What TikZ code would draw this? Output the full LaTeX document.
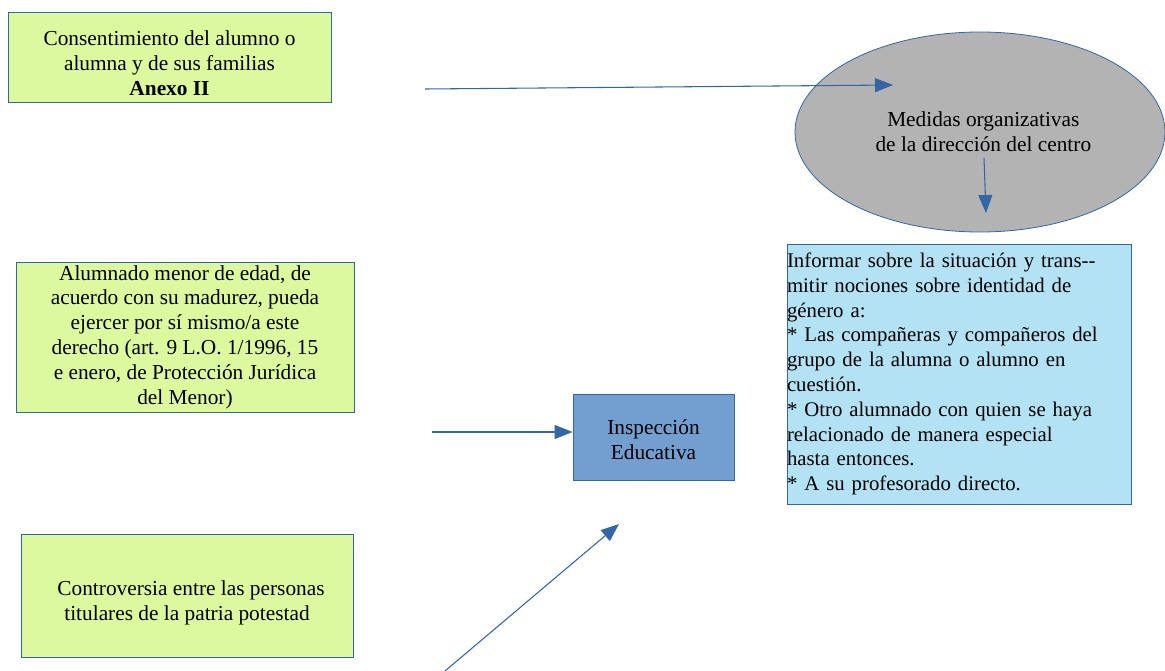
\documentclass[tikz,border=0pt]{standalone}
\usepackage{fontspec}
\setmainfont{Liberation Serif}
\usetikzlibrary{arrows.meta,shapes.geometric}
\definecolor{limefill}{HTML}{DDF99E}
\definecolor{skyfill}{HTML}{B4E2F5}
\definecolor{inspfill}{HTML}{729FCF}
\definecolor{ovalfill}{HTML}{B3B3B3}
\definecolor{linkblue}{HTML}{3465A4}
\tikzset{myarrow/.style={linkblue,line width=0.8pt,-{Triangle[length=13.5pt,width=10.5pt]}}}
\tikzset{mybox/.style={draw=linkblue,line width=0.6pt,fill=limefill,align=center,inner sep=0pt,font=\fontsize{16}{18.6}\selectfont}}

\begin{document}
\begin{tikzpicture}[x=0.75pt,y=-0.75pt]
	\useasboundingbox (0,0) rectangle (1165,671);

	% left column
	\node[mybox,minimum width=242.25pt,minimum height=67.5pt] (consent) at (169.5,57)
		{\parbox{240pt}{\centering\vspace*{9pt}Consentimiento del alumno o\\ alumna y de sus familias\\ \textbf{Anexo II}}};
	\node[mybox,minimum width=253.5pt,minimum height=112.5pt] (menor) at (185,337)
		{Alumnado menor de edad, de\\ acuerdo con su madurez, pueda\\ ejercer por sí mismo/a este\\ derecho (art. 9 L.O. 1/1996, 15\\ e enero, de Protección Jurídica\\ del Menor)};
	\node[mybox,minimum width=249pt,minimum height=92.25pt] (contro) at (187,595.5)
		{\parbox{245pt}{\centering\vspace*{10.5pt}\hspace*{6pt}Controversia entre las personas\\ titulares de la patria potestad}};

	% centre
	\node[mybox,fill=inspfill,minimum width=120.75pt,minimum height=64.5pt] (insp) at (653.5,437)
		{\parbox{118pt}{\centering\vspace*{4.5pt}Inspección\\ Educativa}};

	% right column
	\node[mybox,ellipse,fill=ovalfill,minimum width=277.5pt,minimum height=150pt] (medidas) at (980,132)
		{\hspace*{5pt}Medidas organizativas\\ \hspace*{5pt}de la dirección del centro};
	\node[mybox,fill=skyfill,align=left,text width=258pt,minimum height=195pt,inner xsep=0pt,font=\fontsize{15.6}{18.6}\selectfont] (informar) at (959,374)
		{Informar sobre la situación y trans-{}-\\ mitir nociones sobre identidad de\\ género a:\\ {*} Las compañeras y compañeros del\\ grupo de la alumna o alumno en\\ cuestión.\\ {*} Otro alumnado con quien se haya\\ relacionado de manera especial\\ hasta entonces.\\ {*} A su profesorado directo.};

	% arrows
	\coordinate (s1) at (425,89);
	\coordinate (e1) at (893,85);
	\coordinate (s2) at (984,158);
	\coordinate (e2) at (986,213);
	\coordinate (s3) at (432,432);
	\coordinate (s4) at (445,671);
	\coordinate (e4) at (619,524);
	\draw[myarrow] (s1) -- (e1);
	\draw[myarrow] (s2) -- (e2);
	\draw[myarrow] (s3) -- (insp.west |- s3);
	\draw[myarrow] (s4) -- (e4);
\end{tikzpicture}
\end{document}
